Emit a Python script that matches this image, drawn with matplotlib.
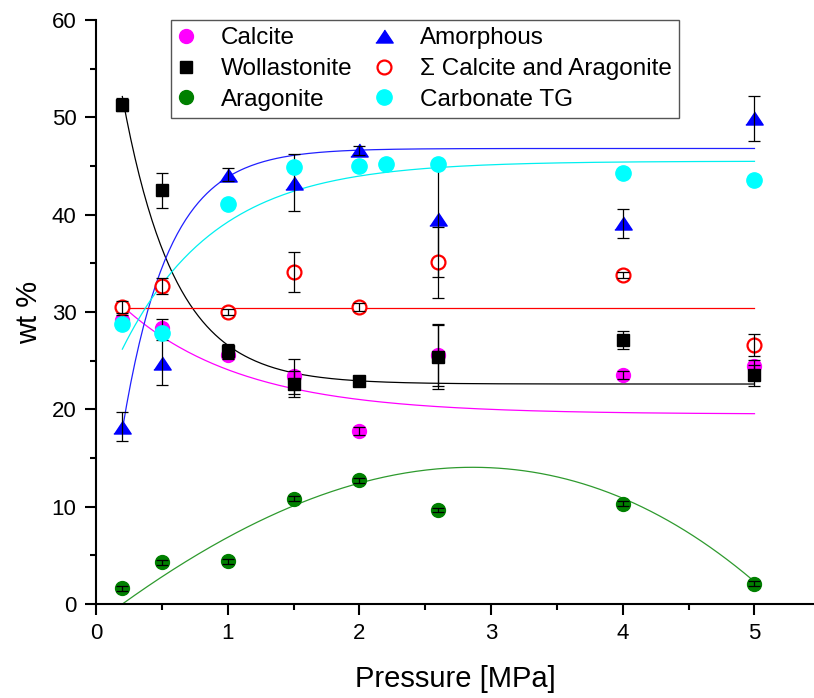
import numpy as np
import matplotlib
matplotlib.use("Agg")
import matplotlib.pyplot as plt
from matplotlib.ticker import MultipleLocator

plt.rcParams['font.family'] = ['Liberation Sans', 'DejaVu Sans']

# pressure points [MPa]
pressure = [0.2, 0.5, 1.0, 1.5, 2.0, 2.6, 4.0, 5.0]
pressure_tg = [0.2, 0.5, 1.0, 1.5, 2.0, 2.2, 2.6, 4.0, 5.0]

# phase contents [wt %] with standard deviations
calcite = [29.2, 28.4, 25.6, 23.4, 17.8, 25.6, 23.5, 24.5]
calcite_err = [0.5, 0.9, 0.4, 1.8, 0.4, 3.2, 0.4, 0.6]
wollastonite = [51.3, 42.5, 26.0, 22.6, 22.9, 25.4, 27.1, 23.5]
wollastonite_err = [0.7, 1.8, 0.7, 1.3, 0.3, 3.3, 0.9, 1.1]
aragonite = [1.6, 4.3, 4.4, 10.8, 12.7, 9.7, 10.3, 2.1]
aragonite_err = [0.25, 0.25, 0.25, 0.25, 0.25, 0.2, 0.25, 0.25]
amorphous = [18.2, 24.8, 44.1, 43.3, 46.6, 39.6, 39.1, 49.9]
amorphous_err = [1.5, 2.3, 0.65, 2.9, 0.5, 6.0, 1.45, 2.3]
carb_sum = [30.5, 32.7, 30.0, 34.1, 30.5, 35.1, 33.8, 26.6]
carb_sum_err = [0.6, 0.8, 0.3, 2.05, 0.4, 3.65, 0.3, 1.1]
carbonate_tg = [28.8, 27.8, 41.1, 44.9, 45.0, 45.2, 45.2, 44.3, 43.6]

# fitted model parameters: y = y0 + A*exp(-x/t)
fit_calcite = (19.5, 13.9, 0.9)
fit_wollastonite = (22.6, 48.7, 0.40)
fit_amorphous = (46.8, -51.2, 0.35)
fit_tg = (45.5, -25.6, 0.71)
fit_sum = 30.4
# cubic for aragonite, lowest order first
fit_aragonite = [-2.0, 10.245, -1.278, -0.1198]

xf = np.linspace(0.2, 5.0, 300)


def expdec(x, p):
    y0, a, t = p
    return y0 + a * np.exp(-x / t)


fig = plt.figure(figsize=(8.14, 6.98), dpi=100)
ax = fig.add_axes([96 / 814, 94 / 698, 718 / 814, 584 / 698])

lw_fit = 0.9
ax.plot(xf, expdec(xf, fit_calcite), color='#ff00ff', lw=lw_fit, zorder=1)
ax.plot(xf, expdec(xf, fit_wollastonite), color='black', lw=lw_fit, zorder=1)
ax.plot(xf, np.polyval(fit_aragonite[::-1], xf), color='#2e9a2e', lw=lw_fit, zorder=1)
ax.plot(xf, expdec(xf, fit_amorphous), color='#2020ff', lw=lw_fit, zorder=1)
ax.plot(xf, np.full_like(xf, fit_sum), color='#ff0000', lw=lw_fit, zorder=1)
ax.plot(xf, expdec(xf, fit_tg), color='#00f0f0', lw=lw_fit, zorder=1)

tri = [(-1, -0.75), (1, -0.75), (0, 0.75)]
series = [
    (pressure, calcite, calcite_err, 'Calcite', dict(marker='o', ms=10, mfc='#ff00ff', mec='#ff00ff')),
    (pressure, wollastonite, wollastonite_err, 'Wollastonite', dict(marker='s', ms=9, mfc='black', mec='black')),
    (pressure, aragonite, aragonite_err, 'Aragonite', dict(marker='o', ms=10, mfc='#008000', mec='#008000')),
    (pressure, amorphous, amorphous_err, 'Amorphous', dict(marker=tri, ms=12.5, mfc='#0000ff', mec='#0000ff')),
    (pressure, carb_sum, carb_sum_err, '\u03a3 Calcite and Aragonite', dict(marker='o', ms=10, mfc='white', mec='#ff0000', mew=1.6)),
    (pressure_tg, carbonate_tg, None, 'Carbonate TG', dict(marker='o', ms=11, mfc='#00ffff', mec='#00ffff')),
]

handles = []
for i, (x, y, err, label, style) in enumerate(series):
    z = 3 + i
    h, = ax.plot(x, y, ls='none', label=label, zorder=z, **style)
    handles.append(h)
    if err is not None:
        ax.errorbar(x, y, yerr=err, fmt='none', ecolor='black', elinewidth=0.9,
                    capsize=4, capthick=0.9, zorder=z + 0.5)

ax.set_xlim(0, 5.452)
ax.set_ylim(0, 60)
ax.xaxis.set_major_locator(MultipleLocator(1))
ax.xaxis.set_minor_locator(MultipleLocator(0.5))
ax.yaxis.set_major_locator(MultipleLocator(10))
ax.yaxis.set_minor_locator(MultipleLocator(5))

for side in ['top', 'right']:
    ax.spines[side].set_visible(False)
for side in ['left', 'bottom']:
    ax.spines[side].set_linewidth(1.5)
ax.tick_params(which='major', direction='out', length=8, width=1.5, labelsize=16, pad=6)
ax.tick_params(which='minor', direction='out', length=4.5, width=1.5)

ax.set_xlabel('Pressure [MPa]', fontsize=21, labelpad=15)
ax.set_ylabel('wt %', fontsize=21, labelpad=6)

leg = ax.legend(handles=handles, loc='upper left', bbox_to_anchor=(0.105, 1.0),
                borderaxespad=0, ncol=2, fontsize=17.5, frameon=True, fancybox=False,
                framealpha=1, edgecolor='#555555', handlelength=0.6, handletextpad=1.15,
                columnspacing=1.0, labelspacing=0.36, borderpad=0.3)
leg.get_frame().set_linewidth(1.0)

fig.savefig('out.png', dpi=100)
